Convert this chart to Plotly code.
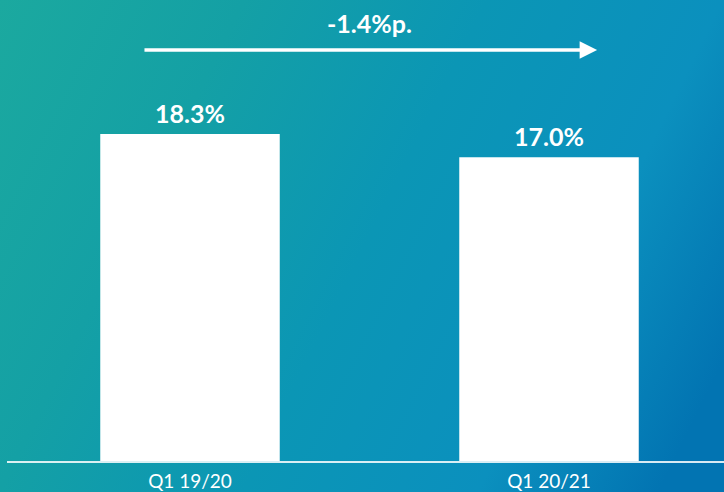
import base64
import plotly.graph_objects as go

# Data
periods = ["Q1 19/20", "Q1 20/21"]
ratios = [18.3, 17.0]
change_label = "-1.4%p."

W, H = 724, 492
M_L, M_R, M_T, M_B = 7, 0, 14, 31
plot_w = W - M_L - M_R
plot_h = H - M_T - M_B
PX_PER_UNIT = 17.87
PX_PER_CAT = 359

FONT = "Lato, 'Open Sans', sans-serif"

# Diagonal teal-to-blue backdrop as an SVG gradient
svg = f"""<svg xmlns='http://www.w3.org/2000/svg' width='{W}' height='{H}'>
<defs><linearGradient id='g' gradientUnits='userSpaceOnUse' x1='0' y1='0' x2='{W}' y2='360'>
<stop offset='0' stop-color='#1ba99f'/>
<stop offset='0.27' stop-color='#14a0a5'/>
<stop offset='0.54' stop-color='#0b96b5'/>
<stop offset='0.8' stop-color='#0b90be'/>
<stop offset='1' stop-color='#0274b2'/>
</linearGradient></defs>
<rect width='{W}' height='{H}' fill='url(#g)'/></svg>"""
bg_uri = "data:image/svg+xml;base64," + base64.b64encode(svg.encode()).decode()

fig = go.Figure()
fig.add_trace(go.Bar(
    x=[0, 1],
    y=ratios,
    width=0.5,
    marker=dict(color="white", line=dict(width=0)),
    hoverinfo="skip",
))

# Value labels above each bar
for i, v in enumerate(ratios):
    fig.add_annotation(
        x=i, y=v, xref="x", yref="y",
        text=f"{v:.1f}%", showarrow=False,
        yanchor="middle", yshift=21,
        font=dict(family=FONT, size=25, color="white", weight="bold"),
    )

# Change arrow and label above the bars
fig.add_annotation(
    x=1.134, y=23.0, ax=-0.131, ay=23.0,
    xref="x", yref="y", axref="x", ayref="y",
    text="", showarrow=True,
    arrowhead=2, arrowsize=1.0, arrowwidth=3.5, arrowcolor="white",
)
fig.add_annotation(
    x=0.5, y=24.5, xref="x", yref="y",
    text=change_label, showarrow=False, yanchor="middle",
    font=dict(family=FONT, size=25, color="white", weight="bold"),
)

fig.add_layout_image(
    source=bg_uri, xref="paper", yref="paper",
    x=-M_L / plot_w, y=1 + M_T / plot_h,
    sizex=W / plot_w, sizey=H / plot_h,
    xanchor="left", yanchor="top",
    sizing="stretch", layer="below",
)

x0 = (M_L - 190) / PX_PER_CAT
fig.update_layout(
    width=W, height=H,
    margin=dict(l=M_L, r=M_R, t=M_T, b=M_B, pad=0),
    paper_bgcolor="#0b95b4",
    plot_bgcolor="rgba(0,0,0,0)",
    showlegend=False,
    xaxis=dict(
        range=[x0, x0 + plot_w / PX_PER_CAT],
        tickmode="array", tickvals=[0, 1], ticktext=periods,
        showgrid=False, zeroline=False,
        showline=True, linecolor="rgba(255,255,255,0.85)", linewidth=2,
        ticks="", ticklabelstandoff=2,
        tickfont=dict(family=FONT, size=19, color="white"),
    ),
    yaxis=dict(
        range=[0, plot_h / PX_PER_UNIT],
        visible=False, showgrid=False, zeroline=False,
    ),
)

fig.write_html("out.html")
